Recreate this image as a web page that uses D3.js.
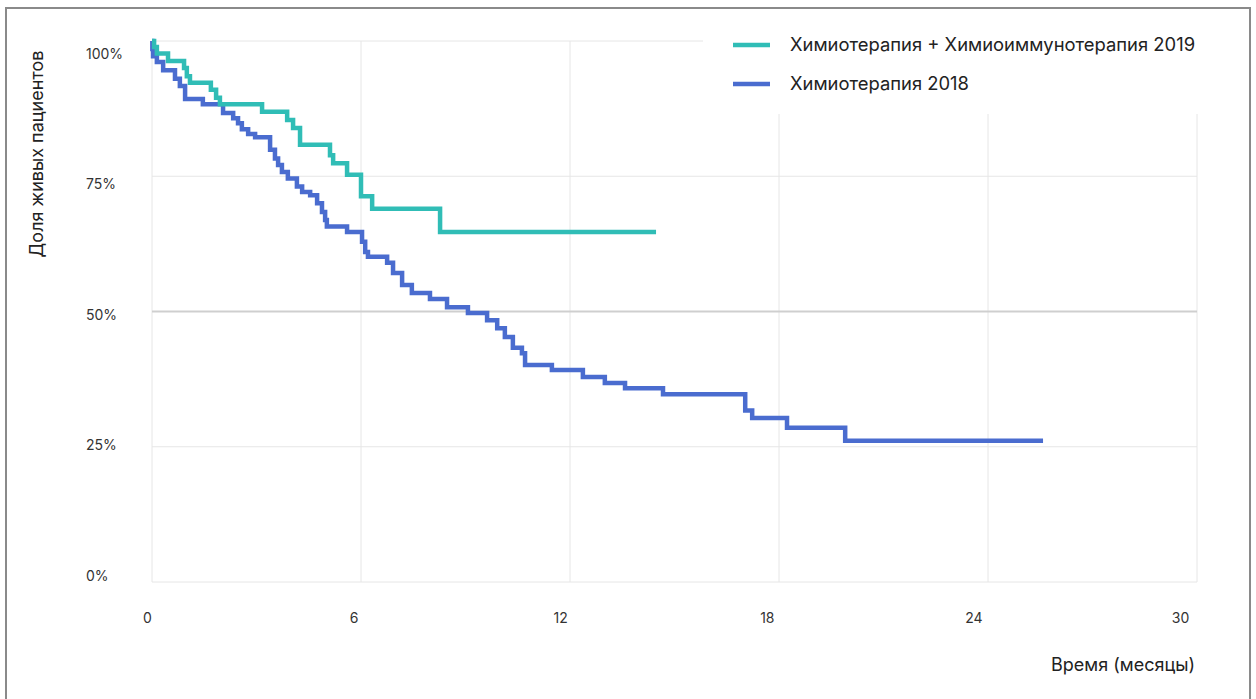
<!DOCTYPE html>
<html lang="ru">
<head>
<meta charset="utf-8">
<script src="https://cdn.jsdelivr.net/npm/d3@7"></script>
<style>
  html, body { margin: 0; padding: 0; background: #fff; }
  svg { display: block; font-family: Inter, "Noto Sans", sans-serif; }
</style>
</head>
<body>
<svg id="chart" width="1256" height="699"></svg>
<script>
// Kaplan–Meier survival: time in months, share alive in percent
const combTime = [0, 0.06, 0.14, 0.46, 0.92, 1.0, 1.09, 1.69, 1.84, 1.95, 3.16, 3.88, 4.05, 4.25, 5.11, 5.2, 5.6, 6.0, 6.32, 8.27, 14.47];
const combSurv = [100, 98.9, 97.7, 96.3, 95.0, 93.5, 92.3, 91.0, 89.5, 88.3, 86.9, 85.4, 83.9, 80.8, 78.9, 77.4, 75.3, 71.3, 69.0, 64.7, 64.7];

const chemoTime = [0, 0.01, 0.03, 0.14, 0.32, 0.66, 0.80, 0.95, 1.46, 2.04, 2.33, 2.47, 2.58, 2.76, 2.96, 3.39, 3.53, 3.62, 3.73, 3.90, 4.16, 4.31, 4.54, 4.74, 4.88, 4.97, 5.02, 5.60, 6.03, 6.12, 6.20, 6.75, 6.92, 7.18, 7.46, 7.98, 8.47, 9.07, 9.62, 9.91, 10.13, 10.36, 10.62, 10.71, 11.48, 12.37, 13.0, 13.58, 14.67, 17.03, 17.23, 18.23, 19.9, 25.58];
const chemoSurv = [100, 98.5, 97.2, 96.1, 94.6, 93.0, 91.7, 89.3, 88.3, 86.7, 85.7, 84.8, 83.7, 82.8, 82.2, 79.9, 78.3, 77.1, 75.8, 74.6, 73.1, 72.1, 71.5, 70.0, 68.4, 66.9, 65.7, 64.7, 62.9, 61.0, 60.1, 59.0, 57.1, 54.9, 53.4, 52.3, 50.8, 49.7, 48.4, 46.9, 45.3, 43.3, 42.3, 40.1, 39.2, 37.9, 36.8, 35.8, 34.7, 31.7, 30.3, 28.5, 26.1, 26.1];

const xTicks = [0, 6, 12, 18, 24, 30];
const yTicks = [0, 25, 50, 75, 100];
const seriesNames = ["Химиотерапия + Химиоиммунотерапия 2019", "Химиотерапия 2018"];
const seriesColors = ["#30bdb6", "#4a6ccf"];
const xTitle = "Время (месяцы)";
const yTitle = "Доля живых пациентов";

const svg = d3.select("#chart");

const x = d3.scaleLinear().domain([0, 30]).range([152, 1197]);
const y = d3.scaleLinear().domain([0, 100]).range([582, 41]);
// tick labels sit on their own slightly inset band
const xLab = d3.scaleLinear().domain([0, 30]).range([147, 1180]);
const yLab = d3.scaleLinear().domain([0, 100]).range([576, 54]);

// outer frame
svg.append("rect")
  .attr("x", 6).attr("y", 8).attr("width", 1244).attr("height", 720)
  .attr("fill", "none").attr("stroke", "#8a8a8a").attr("stroke-width", 2);

// grid
const grid = svg.append("g");
grid.selectAll("line.v").data(xTicks).join("line")
  .attr("class", "v")
  .attr("x1", d => x(d)).attr("x2", d => x(d))
  .attr("y1", y(0)).attr("y2", y(100))
  .attr("stroke", "#e6e6e6").attr("stroke-width", 1);
grid.selectAll("line.h").data(yTicks).join("line")
  .attr("class", "h")
  .attr("x1", x(0)).attr("x2", x(30))
  .attr("y1", d => y(d)).attr("y2", d => y(d))
  .attr("stroke", d => d === 50 ? "#cfcfcf" : "#e6e6e6")
  .attr("stroke-width", d => d === 50 ? 2 : 1);

// tick labels via axes
const xAxis = svg.append("g")
  .attr("transform", "translate(0,618)")
  .call(d3.axisBottom(xLab).tickValues(xTicks).tickSize(0).tickPadding(0).tickFormat(d3.format("d")));
xAxis.select(".domain").remove();
xAxis.selectAll("text")
  .attr("dy", "0.35em")
  .attr("font-size", 14).attr("fill", "#333").attr("font-family", "Inter, sans-serif");

const yAxis = svg.append("g")
  .attr("transform", "translate(86,0)")
  .call(d3.axisLeft(yLab).tickValues(yTicks).tickSize(0).tickPadding(0).tickFormat(d => d + "%"));
yAxis.select(".domain").remove();
yAxis.selectAll("text")
  .attr("text-anchor", "start")
  .attr("font-size", 14).attr("fill", "#333").attr("font-family", "Inter, sans-serif");

// axis titles
svg.append("text")
  .attr("x", 1195).attr("y", 665).attr("dy", "0.35em")
  .attr("text-anchor", "end").attr("font-size", 18).attr("fill", "#222")
  .text(xTitle);
svg.append("text")
  .attr("transform", "translate(37,154) rotate(-90)")
  .attr("dy", "0.35em")
  .attr("text-anchor", "middle").attr("font-size", 18).attr("fill", "#222")
  .text(yTitle);

// legend panel (white backing)
svg.append("rect")
  .attr("x", 703).attr("y", 14).attr("width", 512).attr("height", 100)
  .attr("fill", "#fff");

// survival curves
const line = d3.line()
  .x(d => x(d[0])).y(d => y(d[1]))
  .curve(d3.curveStepAfter);

const series = [
  d3.zip(combTime, combSurv),
  d3.zip(chemoTime, chemoSurv)
];

svg.append("g").selectAll("path")
  .data([series[1], series[0]])
  .join("path")
  .attr("d", line)
  .attr("fill", "none")
  .attr("stroke", (d, i) => i === 0 ? seriesColors[1] : seriesColors[0])
  .attr("stroke-width", 4.5)
  .attr("stroke-linejoin", "miter");

// legend
const legend = svg.append("g");
const legY = [45, 84];
seriesNames.forEach((name, i) => {
  legend.append("line")
    .attr("x1", 733).attr("x2", 770)
    .attr("y1", legY[i]).attr("y2", legY[i])
    .attr("stroke", seriesColors[i]).attr("stroke-width", 4.5);
  legend.append("text")
    .attr("x", 790).attr("y", legY[i]).attr("dy", "0.35em")
    .attr("font-size", 18.4).attr("fill", "#222")
    .text(name);
});
</script>
</body>
</html>
